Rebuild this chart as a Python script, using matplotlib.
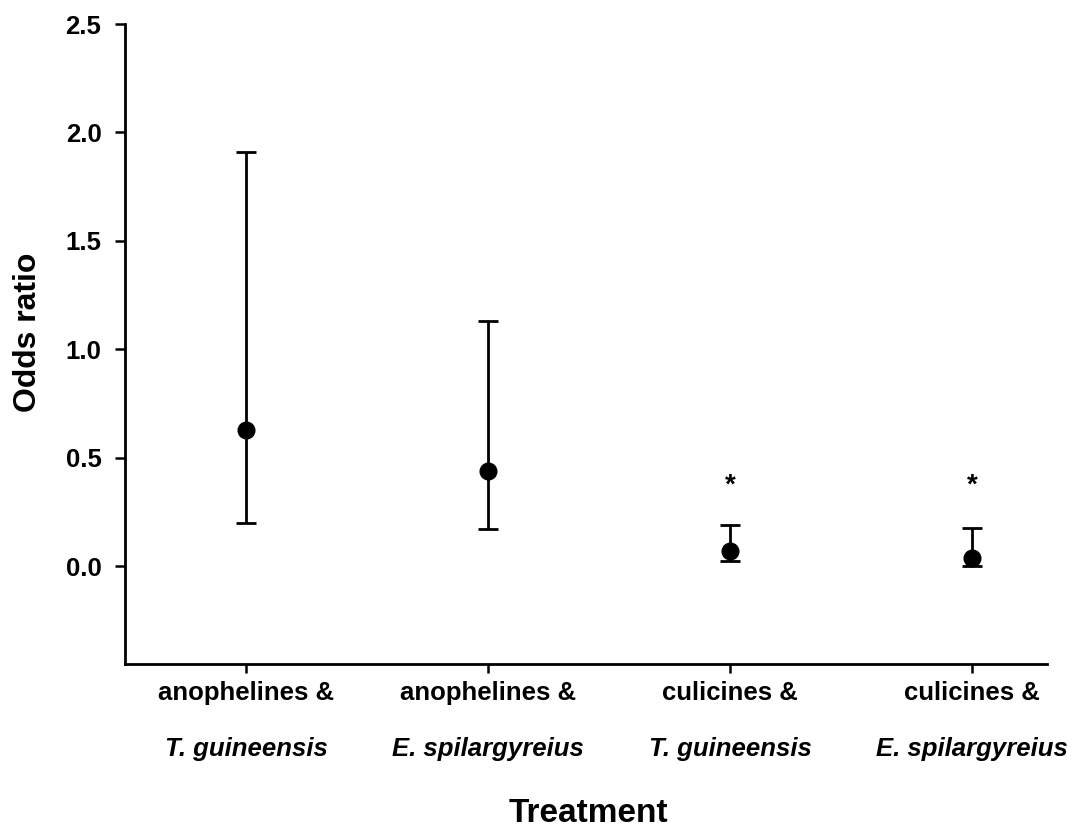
import matplotlib
matplotlib.use("Agg")
import matplotlib.pyplot as plt
import matplotlib.transforms as mtransforms

plt.rcParams['font.family'] = ['Liberation Sans', 'DejaVu Sans']

# Data
group_line1 = ["anophelines &", "anophelines &", "culicines &", "culicines &"]
group_line2 = ["T. guineensis", "E. spilargyreius", "T. guineensis", "E. spilargyreius"]
odds_ratio = [0.63, 0.44, 0.07, 0.04]
ci_upper = [1.91, 1.13, 0.19, 0.175]
ci_lower = [0.20, 0.17, 0.023, 0.0]
significant = [False, False, True, True]
star_y = 0.37
yticks = [0.0, 0.5, 1.0, 1.5, 2.0, 2.5]

fig = plt.figure(figsize=(10.76, 8.4), dpi=100)
ax = fig.add_axes([125/1076, (840-664)/840, (1047-125)/1076, (664-24)/840])

x = list(range(1, len(odds_ratio) + 1))
yerr_low = [o - l for o, l in zip(odds_ratio, ci_lower)]
yerr_high = [u - o for o, u in zip(odds_ratio, ci_upper)]
ax.errorbar(x, odds_ratio, yerr=[yerr_low, yerr_high], fmt='o', color='black',
            markersize=12, elinewidth=2.0, capsize=7.5, capthick=2.0, zorder=3)

for xi, s in zip(x, significant):
    if s:
        ax.text(xi, star_y, '*', ha='center', va='center', fontsize=20,
                fontweight='bold', color='black')

ax.set_xlim(0.5, 4.31)
ax.set_ylim(-0.45, 2.5)
ax.set_yticks(yticks)
ax.set_yticklabels([f"{v:.1f}" for v in yticks], fontsize=18.5, fontweight='bold')
ax.set_xticks(x)
ax.set_xticklabels([''] * len(x))

for sp in ['top', 'right']:
    ax.spines[sp].set_visible(False)
for sp in ['left', 'bottom']:
    ax.spines[sp].set_linewidth(2.0)
ax.tick_params(axis='y', direction='out', length=7, width=1.8, pad=10)
ax.tick_params(axis='x', direction='out', length=6.5, width=1.8)

trans = mtransforms.blended_transform_factory(ax.transData, fig.transFigure)
for xi, l1, l2 in zip(x, group_line1, group_line2):
    ax.text(xi, 1 - 693/840, l1, transform=trans, ha='center', va='center',
            fontsize=18.5, fontweight='bold')
    ax.text(xi, 1 - 749/840, l2, transform=trans, ha='center', va='center',
            fontsize=18.5, fontweight='bold', style='italic')

fig.text(588/1076, 1 - 814/840, 'Treatment', ha='center', va='center',
         fontsize=24, fontweight='bold')
fig.text(28/1076, 1 - 332/840, 'Odds ratio', ha='center', va='center',
         rotation=90, fontsize=23, fontweight='bold')

fig.savefig('out.png', dpi=100)
